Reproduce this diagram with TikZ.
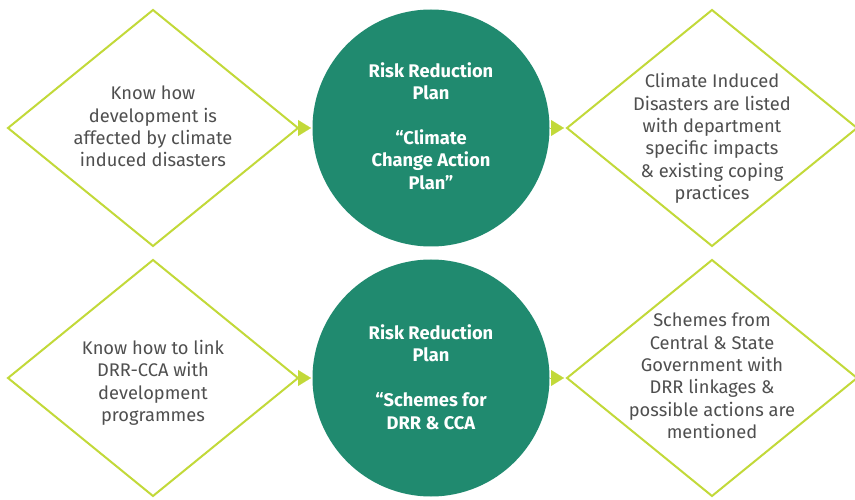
\documentclass[tikz,border=0pt]{standalone}
\usepackage{fontspec}
\setmainfont{Fira Sans}
\usetikzlibrary{shapes.geometric,arrows.meta}
\definecolor{teal}{HTML}{208A6F}
\definecolor{lime}{HTML}{C2D939}
\definecolor{ink}{HTML}{4F4F4F}
\tikzset{
  rhomb/.style={diamond, draw=lime, line width=2pt, fill=white, minimum width=290pt, minimum height=236pt, inner sep=0pt, outer sep=0pt},
  plan/.style={circle, fill=teal, minimum size=237pt, inner sep=0pt, outer sep=0pt},
  note/.style={align=center, text=ink, font=\fontsize{18.3}{22.4}\selectfont},
  title/.style={align=center, text=white, font=\fontsize{18.3}{22.4}\selectfont\bfseries},
  link/.style={draw=lime, line width=0.1pt, -{Triangle[length=13pt, width=16pt]}}
}
\begin{document}
\begin{tikzpicture}[x=1pt,y=1pt]
\useasboundingbox (0,0) rectangle (855,499);
% upper row
\node[rhomb] (d1) at (153,371) {};
\node[plan]  (c1) at (431,371) {};
\node[rhomb] (d2) at (712,371) {};
\node[note]  (t1) at (153,372.5) {Know how\\development is\\affected by climate\\induced disasters};
\node[title] (p1) at (431,373) {Risk Reduction\\Plan\\[22.4pt]“Climate\\Change Action\\Plan”};
\node[note]  (t2) at (712,360.5) {Climate Induced\\Disasters are listed\\with department\\specific impacts\\\& existing coping\\practices};
\draw[link, shorten >=1.5pt] (d1.east) -- (c1.west);
\draw[link, shorten >=3pt] (c1.east) -- (d2.west);
% lower row
\node[rhomb] (d3) at (153,121) {};
\node[plan]  (c2) at (431,121) {};
\node[rhomb] (d4) at (712,121) {};
\node[note]  (t3) at (153,116) {Know how to link\\DRR-CCA with\\development\\programmes};
\node[title] (p2) at (431,122) {Risk Reduction\\Plan\\[22.4pt]“Schemes for\\DRR \& CCA};
\node[note]  (t4) at (712,123) {Schemes from\\Central \& State\\Government with\\DRR linkages \&\\possible actions are\\mentioned};
\draw[link, shorten >=1.5pt] (d3.east) -- (c2.west);
\draw[link, shorten >=3pt] (c2.east) -- (d4.west);
\end{tikzpicture}
\end{document}
